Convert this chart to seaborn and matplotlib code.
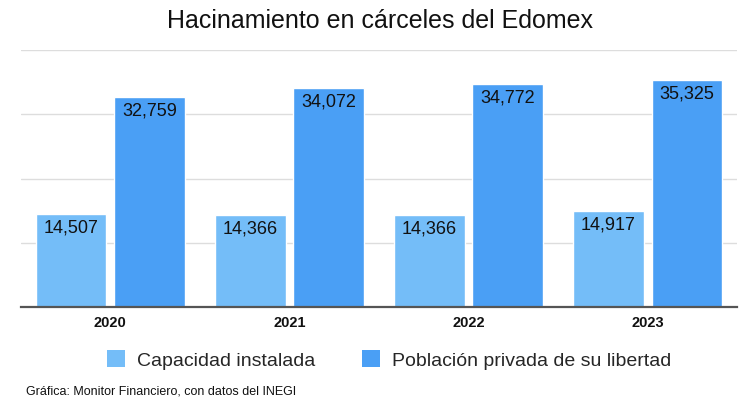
import seaborn as sns
import matplotlib.pyplot as plt
import pandas as pd
from matplotlib.patches import Patch

years = ['2020', '2021', '2022', '2023']
capacidad = [14507, 14366, 14366, 14917]
poblacion = [32759, 34072, 34772, 35325]
series = ['Capacidad instalada', 'Población privada de su libertad']
title = 'Hacinamiento en cárceles del Edomex'
source = 'Gráfica: Monitor Financiero, con datos del INEGI'

light = '#74BDF8'
dark = '#4A9FF5'

df = pd.DataFrame({
    'Año': years * 2,
    'Valor': capacidad + poblacion,
    'Serie': [series[0]] * len(years) + [series[1]] * len(years),
})

sns.set_theme(style='white')
plt.rcParams['font.family'] = ['Liberation Sans', 'DejaVu Sans']

fig = plt.figure(figsize=(7.5, 4.09), dpi=100)
ax = fig.add_axes([0.0276, 0.2487, 0.9555, 0.629])

sns.barplot(data=df, x='Año', y='Valor', hue='Serie', palette=[light, dark],
            width=0.877, gap=0.097, saturation=1, legend=False, ax=ax)

ax.set_ylim(0, 40000)
ax.set_yticks([10000, 20000, 30000, 40000])
ax.yaxis.grid(True, color='#dddddd', lw=1)
ax.set_axisbelow(True)
ax.tick_params(axis='y', length=0, labelleft=False)
ax.tick_params(axis='x', length=0, pad=6.5)
for lab in ax.get_xticklabels():
    lab.set_fontweight('bold')
    lab.set_fontsize(10.5)
    lab.set_color('#111111')
ax.set_xlabel('')
ax.set_ylabel('')
for s in ['left', 'right', 'top']:
    ax.spines[s].set_visible(False)
ax.spines['bottom'].set_color('#555555')
ax.spines['bottom'].set_linewidth(1.6)
ax.spines['bottom'].set_zorder(5)

for p in ax.patches:
    h = p.get_height()
    if h <= 0:
        continue
    ax.annotate(f'{h:,.0f}', (p.get_x() + p.get_width() / 2, h),
                xytext=(0, -4), textcoords='offset points',
                ha='center', va='top', fontsize=13, color='#111111')

handles = [Patch(facecolor=light, edgecolor='none'), Patch(facecolor=dark, edgecolor='none')]
fig.legend(handles, series, loc='center', bbox_to_anchor=(0.5187, 0.12), ncol=2,
           frameon=False, fontsize=14, handlelength=0.93, handleheight=0.98,
           handletextpad=0.62, columnspacing=2.4, borderpad=0)

fig.text(0.5067, 0.9487, title, ha='center', va='center', fontsize=18, color='#111111')
fig.text(0.0352, 0.044, source, ha='left', va='center', fontsize=9, color='#111111')

fig.savefig('out.png', dpi=100)
